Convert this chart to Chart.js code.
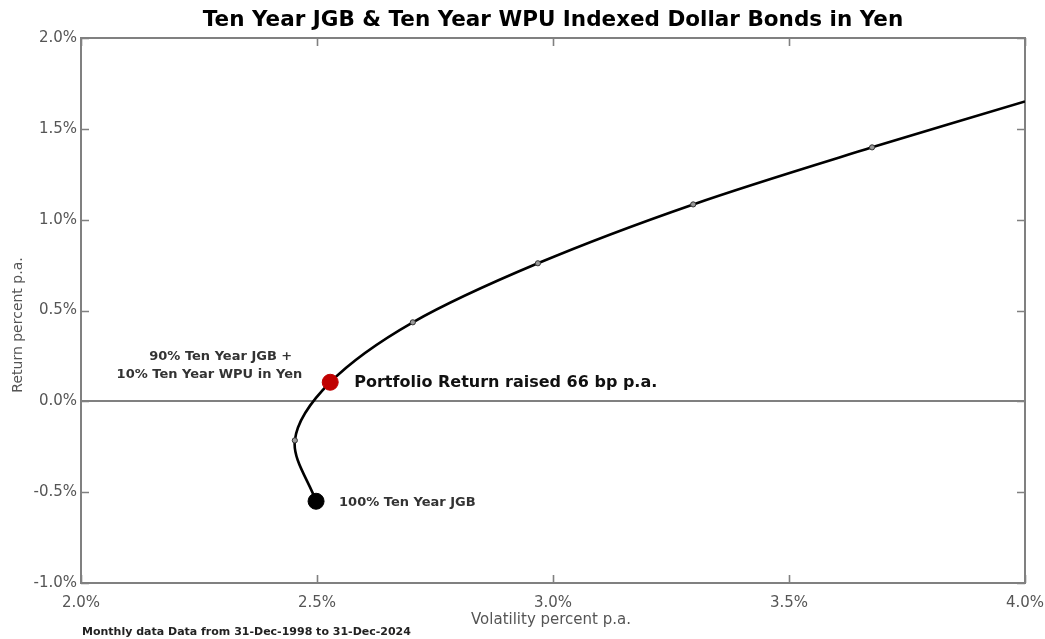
<!DOCTYPE html>
<html>
<head>
<meta charset="utf-8">
<script src="https://cdn.jsdelivr.net/npm/chart.js@4.4.1/dist/chart.umd.min.js"></script>
<style>
  html, body { margin: 0; padding: 0; background: #ffffff; }
  #wrap { width: 1045px; height: 639px; position: relative; }
</style>
</head>
<body>
<div id="wrap"><canvas id="c" width="1045" height="639"></canvas></div>
<script>
// ---- data ----
// efficient frontier: 100% JGB, then every 5% shift into WPU, ending at the 4% volatility edge
const volatility = [2.498, 2.453, 2.528, 2.703, 2.968, 3.297, 3.676, 4.0];
const returns    = [-0.55, -0.215, 0.105, 0.435, 0.76, 1.084, 1.398, 1.651];
// highlighted portfolios
const jgbPoint = { x: 2.498, y: -0.55 };
const mixPoint = { x: 2.528, y: 0.105 };
const xTicks = [2.0, 2.5, 3.0, 3.5, 4.0];
const yTicks = [-1.0, -0.5, 0.0, 0.5, 1.0, 1.5, 2.0];

const titleText = 'Ten Year JGB & Ten Year WPU Indexed Dollar Bonds in Yen';
const xTitle = 'Volatility percent p.a.';
const yTitle = 'Return percent p.a.';
const footnote = 'Monthly data Data from 31-Dec-1998 to 31-Dec-2024';
const mixLabel = ['90% Ten Year JGB +', '10% Ten Year WPU in Yen'];
const mixNote = 'Portfolio Return raised 66 bp p.a.';
const jgbLabel = '100% Ten Year JGB';

const curve = volatility.map((v, i) => ({ x: v, y: returns[i] }));
const smallMarkerRadius = curve.map((p, i) => (i === 0 || i === 2 || i === curve.length - 1) ? 0 : 2.6);

const FONT = "'DejaVu Sans', 'Liberation Sans', Arial, sans-serif";
const GRAY = '#808080';

const deco = {
  id: 'deco',
  beforeDatasetsDraw(chart) {
    const { ctx, chartArea: a, scales: { x, y } } = chart;
    ctx.save();
    ctx.strokeStyle = GRAY;
    ctx.lineWidth = 1.6;
    ctx.beginPath();
    xTicks.forEach(v => {
      const px = Math.round(x.getPixelForValue(v)) + 0.5;
      ctx.moveTo(px, a.bottom); ctx.lineTo(px, a.bottom - 8);
      ctx.moveTo(px, a.top); ctx.lineTo(px, a.top + 8);
    });
    yTicks.forEach(v => {
      const py = Math.round(y.getPixelForValue(v)) + 0.5;
      ctx.moveTo(a.left, py); ctx.lineTo(a.left + 8, py);
      ctx.moveTo(a.right, py); ctx.lineTo(a.right - 8, py);
    });
    ctx.stroke();
    ctx.lineWidth = 2;
    ctx.strokeRect(a.left, a.top, a.right - a.left, a.bottom - a.top);
    ctx.restore();
  },
  afterDraw(chart) {
    const { ctx, chartArea: a, scales: { x, y } } = chart;
    ctx.save();
    ctx.fillStyle = '#000';
    ctx.font = 'bold 21.5px ' + FONT;
    ctx.textAlign = 'center';
    ctx.textBaseline = 'middle';
    ctx.fillText(titleText, (a.left + a.right) / 2, 20);
    ctx.fillStyle = '#555';
    ctx.font = '15px ' + FONT;
    ctx.fillText(xTitle, (a.left + a.right) / 2 - 2, 620);
    ctx.save();
    ctx.translate(18, 325);
    ctx.rotate(-Math.PI / 2);
    ctx.font = '14px ' + FONT;
    ctx.fillText(yTitle, 0, 0);
    ctx.restore();
    ctx.fillStyle = '#222';
    ctx.font = 'bold 11px ' + FONT;
    ctx.textAlign = 'left';
    ctx.fillText(footnote, a.left + 1, 632);
    const mx = x.getPixelForValue(mixPoint.x), my = y.getPixelForValue(mixPoint.y);
    const jx = x.getPixelForValue(jgbPoint.x), jy = y.getPixelForValue(jgbPoint.y);
    ctx.fillStyle = '#111';
    ctx.font = 'bold 16px ' + FONT;
    ctx.fillText(mixNote, mx + 24, my + 1);
    ctx.fillStyle = '#333';
    ctx.font = 'bold 13px ' + FONT;
    ctx.fillText(jgbLabel, jx + 23, jy + 1);
    ctx.textAlign = 'right';
    ctx.fillText(mixLabel[0], mx - 38, my - 26);
    ctx.fillText(mixLabel[1], mx - 28, my - 8);
    ctx.restore();
  }
};

new Chart(document.getElementById('c'), {
  type: 'scatter',
  data: {
    datasets: [
      {
        label: 'JGB', data: [jgbPoint], pointRadius: 8, pointHoverRadius: 8,
        backgroundColor: '#000', borderColor: '#000', order: 1
      },
      {
        label: 'Mix', data: [mixPoint], pointRadius: 8, pointHoverRadius: 8,
        backgroundColor: '#c00000', borderColor: '#c00000', order: 1
      },
      {
        label: 'Frontier', data: curve, showLine: true, tension: 0.33,
        borderColor: '#000', borderWidth: 2.6,
        pointRadius: smallMarkerRadius, pointBackgroundColor: '#999', pointBorderColor: '#333',
        pointBorderWidth: 1, order: 2
      }
    ]
  },
  options: {
    responsive: false,
    animation: false,
    events: [],
    layout: { padding: { left: 0, right: 20, top: 38, bottom: 0 } },
    plugins: { legend: { display: false }, tooltip: { enabled: false }, title: { display: false } },
    scales: {
      x: {
        type: 'linear', min: 2, max: 4,
        afterBuildTicks: s => { s.ticks = xTicks.map(v => ({ value: v })); },
        afterFit: s => { s.height = 56; s.paddingLeft = 0; s.paddingRight = 0; },
        grid: { display: false },
        border: { display: false },
        ticks: {
          padding: 3, color: '#555', font: { family: FONT, size: 15 },
          callback: v => Number(v).toFixed(1) + '%'
        }
      },
      y: {
        type: 'linear', min: -1, max: 2,
        afterBuildTicks: s => { s.ticks = yTicks.map(v => ({ value: v })); },
        afterFit: s => { s.width = 81; s.paddingTop = 0; s.paddingBottom = 0; },
        grid: {
          drawTicks: false,
          color: c => (c.tick && c.tick.value === 0) ? GRAY : 'rgba(0,0,0,0)',
          lineWidth: 2
        },
        border: { display: false },
        ticks: {
          padding: 4, color: '#555', font: { family: FONT, size: 15 },
          callback: v => Number(v).toFixed(1) + '%'
        }
      }
    }
  },
  plugins: [deco]
});
</script>
</body>
</html>
